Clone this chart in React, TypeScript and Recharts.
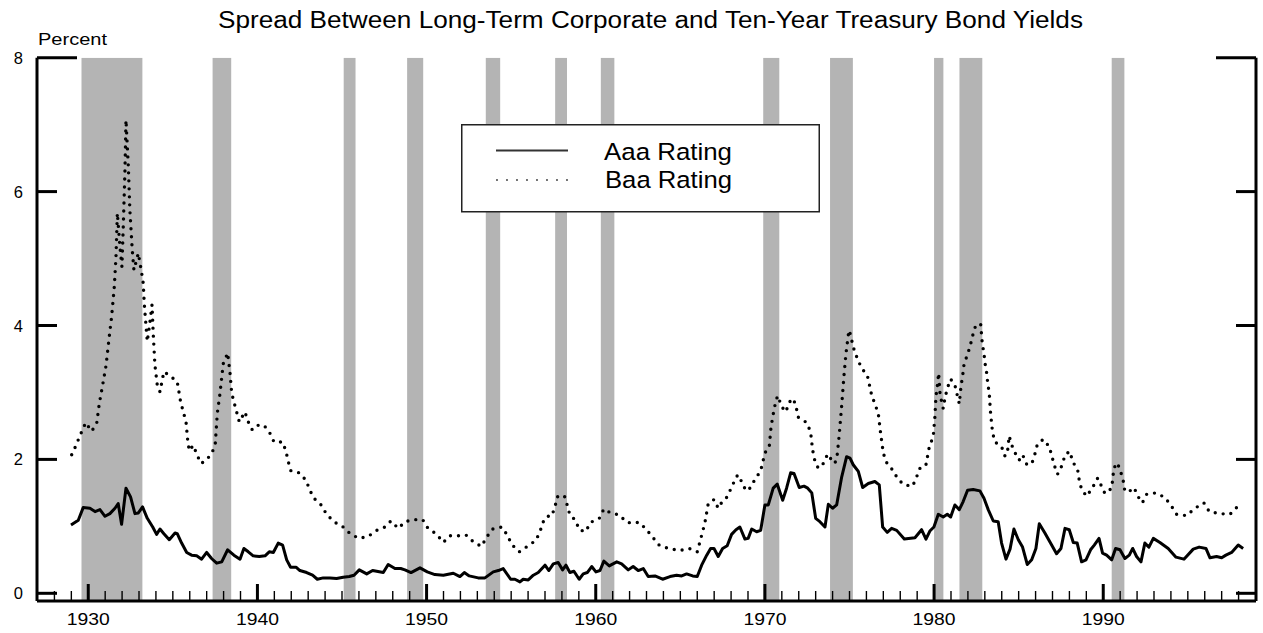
import React from 'react';
import { ComposedChart, Line, XAxis, YAxis, ReferenceArea, Legend } from 'recharts';

// [year, spread in percent]
const aaaSeries: [number, number][] = [
  [1928.98, 1.02], [1929.41, 1.09], [1929.7, 1.28], [1930.1, 1.27], [1930.4, 1.22], [1930.69, 1.25],
  [1930.99, 1.15], [1931.28, 1.19], [1931.58, 1.27], [1931.77, 1.34], [1931.97, 1.03], [1932.23, 1.57],
  [1932.5, 1.44], [1932.76, 1.19], [1932.96, 1.2], [1933.21, 1.29], [1933.49, 1.12], [1933.81, 0.99],
  [1934.04, 0.88], [1934.24, 0.96], [1934.47, 0.89], [1934.79, 0.8], [1935.13, 0.9], [1935.26, 0.89],
  [1935.52, 0.75], [1935.82, 0.61], [1936.11, 0.57], [1936.41, 0.56], [1936.7, 0.51], [1937.0, 0.61],
  [1937.29, 0.52], [1937.59, 0.45], [1937.89, 0.47], [1938.24, 0.65], [1938.61, 0.57], [1938.97, 0.51],
  [1939.2, 0.67], [1939.46, 0.62], [1939.75, 0.56], [1940.11, 0.55], [1940.45, 0.56], [1940.7, 0.62],
  [1940.94, 0.61], [1941.23, 0.75], [1941.49, 0.72], [1941.73, 0.5], [1941.96, 0.39], [1942.28, 0.39],
  [1942.51, 0.34], [1942.91, 0.31], [1943.26, 0.27], [1943.54, 0.21], [1943.89, 0.23], [1944.29, 0.23],
  [1944.68, 0.22], [1945.07, 0.24], [1945.43, 0.25], [1945.71, 0.27], [1946.02, 0.35], [1946.46, 0.29],
  [1946.81, 0.34], [1947.44, 0.31], [1947.73, 0.43], [1948.13, 0.37], [1948.47, 0.37], [1948.72, 0.35],
  [1949.08, 0.31], [1949.61, 0.38], [1950.04, 0.32], [1950.49, 0.28], [1950.99, 0.27], [1951.58, 0.3],
  [1951.97, 0.25], [1952.23, 0.31], [1952.52, 0.26], [1953.05, 0.23], [1953.45, 0.23], [1953.94, 0.32],
  [1954.24, 0.34], [1954.53, 0.37], [1954.97, 0.21], [1955.22, 0.21], [1955.52, 0.17], [1955.71, 0.21],
  [1956.01, 0.2], [1956.31, 0.27], [1956.6, 0.31], [1957.0, 0.42], [1957.23, 0.34], [1957.49, 0.44],
  [1957.78, 0.46], [1958.04, 0.35], [1958.24, 0.42], [1958.47, 0.31], [1958.71, 0.33], [1959.02, 0.21],
  [1959.26, 0.29], [1959.5, 0.31], [1959.76, 0.4], [1960.01, 0.32], [1960.25, 0.34], [1960.48, 0.48],
  [1960.8, 0.41], [1961.24, 0.47], [1961.53, 0.44], [1961.92, 0.35], [1962.21, 0.4], [1962.51, 0.34],
  [1962.81, 0.37], [1963.1, 0.25], [1963.5, 0.26], [1963.95, 0.21], [1964.39, 0.25], [1964.78, 0.27],
  [1965.08, 0.26], [1965.37, 0.29], [1965.73, 0.26], [1966.0, 0.25], [1966.26, 0.42], [1966.56, 0.57],
  [1966.79, 0.67], [1966.99, 0.67], [1967.24, 0.55], [1967.5, 0.67], [1967.77, 0.71], [1968.03, 0.88],
  [1968.29, 0.95], [1968.52, 0.99], [1968.82, 0.81], [1969.01, 0.82], [1969.22, 0.96], [1969.51, 0.92],
  [1969.75, 0.94], [1970.0, 1.32], [1970.2, 1.32], [1970.49, 1.57], [1970.73, 1.63], [1971.05, 1.39],
  [1971.28, 1.57], [1971.52, 1.8], [1971.72, 1.79], [1972.03, 1.58], [1972.31, 1.6], [1972.53, 1.57],
  [1972.77, 1.5], [1973.0, 1.12], [1973.25, 1.07], [1973.55, 0.99], [1973.75, 1.33], [1974.0, 1.27],
  [1974.24, 1.32], [1974.54, 1.74], [1974.83, 2.04], [1975.03, 2.02], [1975.22, 1.92], [1975.52, 1.82],
  [1975.78, 1.58], [1976.11, 1.64], [1976.5, 1.67], [1976.76, 1.62], [1976.96, 0.99], [1977.23, 0.91],
  [1977.49, 0.97], [1977.79, 0.94], [1978.24, 0.81], [1978.87, 0.83], [1979.26, 0.95], [1979.52, 0.81],
  [1979.75, 0.93], [1979.99, 0.99], [1980.25, 1.18], [1980.54, 1.14], [1980.78, 1.18], [1980.98, 1.14],
  [1981.23, 1.32], [1981.49, 1.25], [1981.72, 1.37], [1981.98, 1.54], [1982.31, 1.55], [1982.71, 1.53],
  [1982.95, 1.42], [1983.2, 1.25], [1983.5, 1.08], [1983.79, 1.07], [1983.99, 0.75], [1984.25, 0.51],
  [1984.49, 0.66], [1984.72, 0.96], [1984.98, 0.8], [1985.23, 0.69], [1985.51, 0.43], [1985.77, 0.5],
  [1986.02, 0.67], [1986.22, 1.04], [1986.55, 0.9], [1986.95, 0.72], [1987.24, 0.59], [1987.5, 0.67],
  [1987.74, 0.97], [1987.99, 0.95], [1988.23, 0.76], [1988.46, 0.75], [1988.72, 0.47], [1988.98, 0.5],
  [1989.25, 0.65], [1989.47, 0.72], [1989.75, 0.82], [1989.96, 0.6], [1990.2, 0.57], [1990.5, 0.5],
  [1990.73, 0.67], [1990.99, 0.65], [1991.28, 0.52], [1991.54, 0.57], [1991.74, 0.67], [1991.97, 0.55],
  [1992.23, 0.47], [1992.46, 0.75], [1992.7, 0.69], [1992.96, 0.82], [1993.35, 0.76], [1993.84, 0.67],
  [1994.3, 0.54], [1994.77, 0.51], [1995.32, 0.66], [1995.67, 0.69], [1996.07, 0.67], [1996.31, 0.53],
  [1996.7, 0.55], [1997.0, 0.53], [1997.25, 0.57], [1997.59, 0.61], [1997.98, 0.72], [1998.27, 0.67],
];

const baaSeries: [number, number][] = [
  [1929.02, 2.07], [1929.26, 2.2], [1929.5, 2.35], [1929.85, 2.55], [1930.2, 2.42], [1930.5, 2.54],
  [1930.65, 2.83], [1930.85, 3.11], [1931.05, 3.4], [1931.24, 3.83], [1931.38, 4.13], [1931.54, 4.58],
  [1931.64, 5.03], [1931.72, 5.68], [1931.87, 5.18], [1931.99, 4.88], [1932.07, 5.48], [1932.17, 6.32],
  [1932.23, 7.07], [1932.37, 6.37], [1932.46, 5.72], [1932.6, 5.13], [1932.7, 4.83], [1932.96, 5.08],
  [1933.16, 4.78], [1933.25, 4.63], [1933.31, 4.33], [1933.45, 3.88], [1933.49, 3.76], [1933.65, 4.06],
  [1933.77, 4.31], [1933.84, 3.88], [1933.94, 3.41], [1934.08, 3.11], [1934.24, 3.01], [1934.47, 3.31],
  [1934.83, 3.25], [1935.26, 3.16], [1935.46, 2.86], [1935.78, 2.56], [1935.88, 2.28], [1935.97, 2.13],
  [1936.21, 2.21], [1936.41, 2.08], [1936.66, 1.94], [1937.0, 1.99], [1937.35, 2.12], [1937.51, 2.24],
  [1937.63, 2.69], [1937.79, 2.99], [1937.98, 3.43], [1938.24, 3.59], [1938.38, 3.29], [1938.48, 2.99],
  [1938.61, 2.86], [1938.93, 2.56], [1939.26, 2.71], [1939.46, 2.56], [1939.7, 2.44], [1940.05, 2.51],
  [1940.39, 2.51], [1940.74, 2.39], [1940.98, 2.26], [1941.49, 2.26], [1941.69, 2.12], [1941.82, 1.97],
  [1941.98, 1.83], [1942.47, 1.8], [1942.87, 1.69], [1943.1, 1.54], [1943.34, 1.42], [1943.76, 1.32],
  [1944.09, 1.18], [1944.52, 1.07], [1945.07, 0.99], [1945.53, 0.88], [1946.02, 0.82], [1946.55, 0.85],
  [1947.05, 0.94], [1947.54, 0.99], [1947.89, 1.08], [1948.33, 0.97], [1948.72, 1.07], [1949.31, 1.1],
  [1949.77, 1.1], [1950.06, 0.98], [1950.6, 0.88], [1950.99, 0.76], [1951.38, 0.86], [1951.87, 0.86],
  [1952.33, 0.87], [1952.8, 0.76], [1953.25, 0.7], [1953.55, 0.84], [1953.9, 0.96], [1954.44, 0.99],
  [1954.77, 0.87], [1955.03, 0.73], [1955.48, 0.62], [1955.95, 0.7], [1956.46, 0.79], [1956.7, 0.92],
  [1956.9, 1.07], [1957.1, 1.15], [1957.39, 1.15], [1957.59, 1.29], [1957.72, 1.44], [1958.14, 1.46],
  [1958.31, 1.32], [1958.47, 1.17], [1958.81, 1.09], [1959.02, 0.95], [1959.4, 0.92], [1959.7, 1.06],
  [1960.21, 1.12], [1960.48, 1.26], [1960.88, 1.2], [1961.39, 1.17], [1961.83, 1.06], [1962.16, 1.05],
  [1962.57, 1.06], [1962.97, 0.96], [1963.36, 0.84], [1963.75, 0.72], [1964.28, 0.67], [1964.98, 0.64],
  [1965.53, 0.67], [1966.0, 0.62], [1966.16, 0.77], [1966.45, 1.05], [1966.65, 1.34], [1966.99, 1.4],
  [1967.24, 1.27], [1967.5, 1.38], [1967.77, 1.44], [1968.09, 1.62], [1968.39, 1.77], [1968.62, 1.67],
  [1968.88, 1.53], [1969.11, 1.57], [1969.41, 1.7], [1969.75, 1.83], [1969.9, 1.99], [1970.06, 2.13],
  [1970.26, 2.2], [1970.36, 2.48], [1970.46, 2.63], [1970.55, 2.76], [1970.69, 2.91], [1970.79, 2.95],
  [1970.95, 2.8], [1971.24, 2.71], [1971.42, 2.85], [1971.67, 2.91], [1971.83, 2.8], [1971.97, 2.63],
  [1972.47, 2.55], [1972.7, 2.41], [1972.82, 2.14], [1972.96, 1.97], [1973.15, 1.87], [1973.41, 1.92],
  [1973.71, 2.08], [1973.94, 1.99], [1974.14, 1.94], [1974.28, 2.08], [1974.39, 2.36], [1974.54, 2.81],
  [1974.67, 3.24], [1974.79, 3.58], [1974.93, 3.86], [1974.99, 3.93], [1975.13, 3.78], [1975.28, 3.63],
  [1975.46, 3.51], [1975.72, 3.36], [1976.05, 3.26], [1976.31, 2.96], [1976.7, 2.69], [1976.84, 2.39],
  [1977.0, 2.09], [1977.2, 1.95], [1977.55, 1.84], [1977.88, 1.7], [1978.24, 1.62], [1978.73, 1.6],
  [1978.97, 1.74], [1979.2, 1.89], [1979.52, 1.92], [1979.72, 2.19], [1979.95, 2.34], [1980.05, 2.64],
  [1980.11, 2.94], [1980.19, 3.09], [1980.27, 3.29], [1980.35, 2.99], [1980.46, 2.84], [1980.54, 2.76],
  [1980.64, 2.91], [1980.78, 3.06], [1980.98, 3.2], [1981.23, 3.11], [1981.37, 2.96], [1981.49, 2.83],
  [1981.59, 3.09], [1981.69, 3.25], [1981.76, 3.4], [1981.92, 3.53], [1982.12, 3.68], [1982.26, 3.83],
  [1982.41, 3.97], [1982.75, 4.03], [1982.85, 3.73], [1982.95, 3.58], [1983.01, 3.44], [1983.11, 3.29],
  [1983.17, 3.14], [1983.26, 2.99], [1983.34, 2.69], [1983.4, 2.54], [1983.46, 2.4], [1983.6, 2.26],
  [1983.99, 2.19], [1984.19, 2.05], [1984.33, 2.09], [1984.44, 2.35], [1984.58, 2.22], [1984.84, 2.07],
  [1985.03, 1.99], [1985.23, 2.07], [1985.47, 1.93], [1985.77, 1.93], [1985.96, 2.08], [1986.1, 2.22],
  [1986.45, 2.3], [1986.81, 2.19], [1986.97, 2.04], [1987.14, 1.89], [1987.3, 1.78], [1987.58, 1.92],
  [1987.74, 2.07], [1988.03, 2.12], [1988.19, 1.97], [1988.49, 1.84], [1988.58, 1.69], [1988.72, 1.55],
  [1989.02, 1.45], [1989.37, 1.58], [1989.67, 1.72], [1989.86, 1.62], [1990.1, 1.49], [1990.5, 1.57],
  [1990.63, 1.87], [1990.83, 1.95], [1991.03, 1.82], [1991.19, 1.67], [1991.28, 1.52], [1991.58, 1.53],
  [1991.82, 1.58], [1992.07, 1.44], [1992.31, 1.35], [1992.57, 1.48], [1993.12, 1.5], [1993.65, 1.43],
  [1994.04, 1.3], [1994.34, 1.18], [1994.93, 1.16], [1995.42, 1.27], [1995.95, 1.35], [1996.27, 1.22],
  [1996.86, 1.19], [1997.49, 1.18], [1997.92, 1.29],
];

// NBER recessions [start, end] in fractional years
const recessions: [number, number][] = [
  [1929.6, 1933.2], [1937.35, 1938.45], [1945.1, 1945.8], [1948.85, 1949.8], [1953.5, 1954.35],
  [1957.6, 1958.3], [1960.3, 1961.1], [1969.9, 1970.85], [1973.85, 1975.2], [1980.0, 1980.55],
  [1981.5, 1982.85], [1990.5, 1991.25],
];

const yearTicks: number[] = [
  1928, 1929, 1930, 1931, 1932, 1933, 1934, 1935, 1936, 1937, 1938, 1939, 1940, 1941, 1942, 1943,
  1944, 1945, 1946, 1947, 1948, 1949, 1950, 1951, 1952, 1953, 1954, 1955, 1956, 1957, 1958, 1959,
  1960, 1961, 1962, 1963, 1964, 1965, 1966, 1967, 1968, 1969, 1970, 1971, 1972, 1973, 1974, 1975,
  1976, 1977, 1978, 1979, 1980, 1981, 1982, 1983, 1984, 1985, 1986, 1987, 1988, 1989, 1990, 1991,
  1992, 1993, 1994, 1995, 1996, 1997, 1998,
];
const labeledYears: number[] = [1930, 1940, 1950, 1960, 1970, 1980, 1990];
const percentTicks: number[] = [0, 2, 4, 6, 8];

const X_DOMAIN: [number, number] = [1926.97, 1999.03];
const Y_DOMAIN: [number, number] = [-0.115, 8];

const FONT = '"Liberation Sans", Arial, Helvetica, sans-serif';

const aaaData = aaaSeries.map(([year, v]) => ({ year, aaa: v }));
const baaData = baaSeries.map(([year, v]) => ({ year, baa: v }));

const XTick = (props: any) => {
  const { x, y, payload } = props;
  const v = payload.value as number;
  const major = labeledYears.includes(v);
  return (
    <g>
      <line x1={x} x2={x} y1={y} y2={y - (major ? 17 : 10)} stroke="#000" strokeWidth={major ? 3 : 1.4} />
      {major && (
        <text x={x} y={y + 24} textAnchor="middle" fontSize={16} fontFamily={FONT} fill="#000"
          textLength={43} lengthAdjust="spacingAndGlyphs">{v}</text>
      )}
    </g>
  );
};

const LeftTick = (props: any) => {
  const { x, y, payload } = props;
  const v = payload.value as number;
  const len = v === 8 ? 40 : 20;
  return (
    <g>
      <line x1={x} x2={x + len} y1={y} y2={y} stroke="#000" strokeWidth={3} />
      <text x={x - 14} y={y + 6} textAnchor="end" fontSize={16.5} fontFamily={FONT} fill="#000">{v}</text>
    </g>
  );
};

const RightTick = (props: any) => {
  const { x, y, payload } = props;
  const v = payload.value as number;
  const len = v === 8 ? 40 : 20;
  return <line x1={x} x2={x - len} y1={y} y2={y} stroke="#000" strokeWidth={3} />;
};

const LegendBox = () => (
  <svg width={360} height={90} style={{ display: 'block' }}>
    <rect x={0.75} y={0.75} width={357.5} height={87} fill="#fff" stroke="#222" strokeWidth={1.5} />
    <line x1={35} x2={107} y1={26.5} y2={26.5} stroke="#333" strokeWidth={2} />
    <line x1={36} x2={107} y1={56} y2={56} stroke="#333" strokeWidth={1.8} strokeDasharray="0 10" strokeLinecap="round" />
    <text x={143} y={36} fontSize={24.5} fontFamily={FONT} fill="#000" textLength={128} lengthAdjust="spacingAndGlyphs">Aaa Rating</text>
    <text x={144} y={63.5} fontSize={24.5} fontFamily={FONT} fill="#000" textLength={127} lengthAdjust="spacingAndGlyphs">Baa Rating</text>
  </svg>
);

export default function App() {
  return (
    <div style={{ position: 'relative', width: 1263, height: 633, background: '#fff' }}>
      <style>{'body{margin:0;}'}</style>
      <ComposedChart width={1263} height={633} margin={{ top: 57.7, right: 0, bottom: 0, left: 0 }}>
        {recessions.map(([a, b], i) => (
          <ReferenceArea key={i} x1={a} x2={b} y1={Y_DOMAIN[0]} y2={Y_DOMAIN[1]} yAxisId="left"
            fill="#b4b4b4" fillOpacity={1} stroke="none" ifOverflow="hidden" />
        ))}
        <Line data={baaData} dataKey="baa" yAxisId="left" type="linear" stroke="#000" strokeWidth={3.4}
          strokeDasharray="0 8" strokeLinecap="round" dot={false} isAnimationActive={false} />
        <Line data={aaaData} dataKey="aaa" yAxisId="left" type="linear" stroke="#000" strokeWidth={3}
          strokeLinejoin="round" dot={false} isAnimationActive={false} />
        <XAxis dataKey="year" type="number" domain={X_DOMAIN} allowDataOverflow ticks={yearTicks} interval={0}
          height={32} tickSize={0} tickMargin={0} tickLine={false}
          axisLine={{ stroke: '#000', strokeWidth: 3 }} tick={<XTick />} />
        <YAxis yAxisId="left" type="number" domain={Y_DOMAIN} allowDataOverflow ticks={percentTicks} interval={0}
          width={37} tickSize={0} tickMargin={0} tickLine={false}
          axisLine={{ stroke: '#000', strokeWidth: 3 }} tick={<LeftTick />} />
        <YAxis yAxisId="right" orientation="right" type="number" domain={Y_DOMAIN} allowDataOverflow ticks={percentTicks}
          interval={0} width={7} tickSize={0} tickMargin={0} tickLine={false}
          axisLine={{ stroke: '#000', strokeWidth: 3 }} tick={<RightTick />} />
        <Legend layout="vertical" align="center" verticalAlign="middle"
          wrapperStyle={{ position: 'absolute', left: 461, top: 124, width: 360, height: 90 }}
          content={() => <LegendBox />} />
      </ComposedChart>
      <svg width={1263} height={60} style={{ position: 'absolute', left: 0, top: 0, pointerEvents: 'none' }}>
        <text x={218} y={27.5} fontSize={23} fontFamily={FONT} fill="#000" textLength={865} lengthAdjust="spacingAndGlyphs">
          Spread Between Long-Term Corporate and Ten-Year Treasury Bond Yields
        </text>
        <text x={38} y={45} fontSize={16.5} fontFamily={FONT} fill="#000" textLength={69} lengthAdjust="spacingAndGlyphs">
          Percent
        </text>
      </svg>
    </div>
  );
}
